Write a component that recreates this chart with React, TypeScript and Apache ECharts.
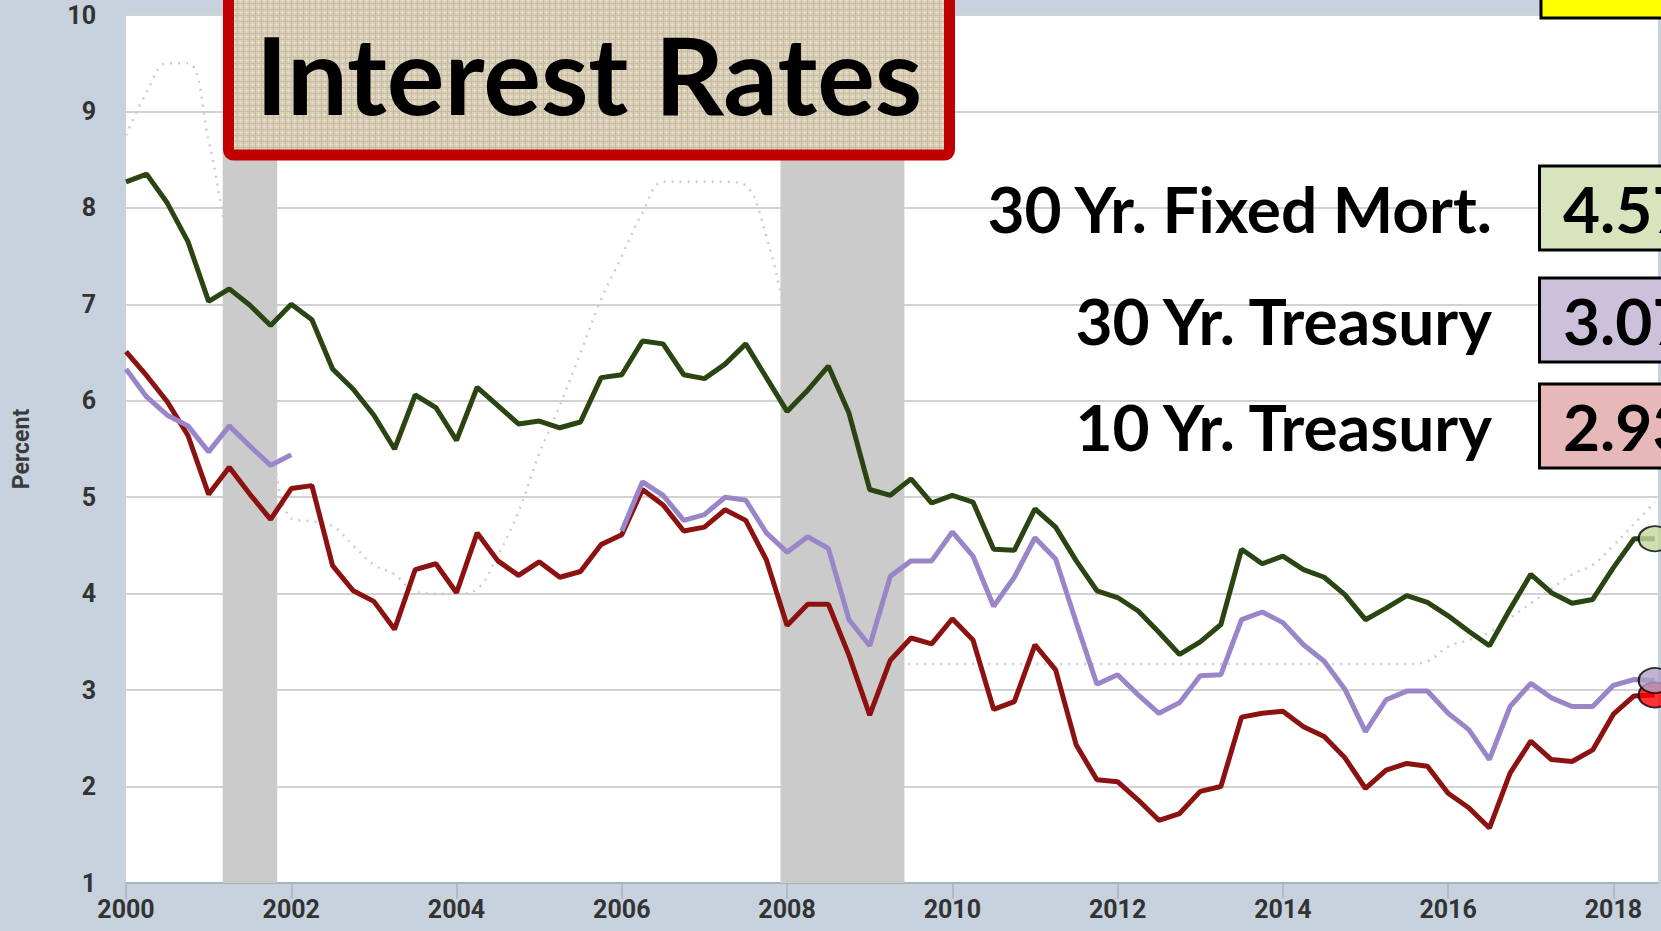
import React, { useEffect, useRef } from "react";
import * as echarts from "echarts";

// Quarterly observations, 2000 Q1 .. 2018 Q3 (75 points)
const START_YEAR = 2000;
const mortgage30 = [
  8.27, 8.35, 8.05, 7.65, 7.03, 7.16, 6.99, 6.78, 7.0, 6.84, 6.33, 6.12, 5.85, 5.5, 6.06, 5.93,
  5.59, 6.14, 5.95, 5.76, 5.79, 5.72, 5.78, 6.24, 6.27, 6.62, 6.59, 6.27, 6.23, 6.38, 6.59, 6.24,
  5.89, 6.11, 6.36, 5.87, 5.08, 5.02, 5.19, 4.94, 5.02, 4.95, 4.46, 4.45, 4.88, 4.69, 4.34, 4.03,
  3.96, 3.82, 3.6, 3.37, 3.5, 3.68, 4.46, 4.31, 4.39, 4.25, 4.17, 3.99, 3.73, 3.85, 3.98, 3.91,
  3.77, 3.61, 3.46, 3.84, 4.2, 4.01, 3.9, 3.94, 4.27, 4.57, 4.57,
];
const treasury30 = [
  6.33, 6.04, 5.85, 5.74, 5.47, 5.74, 5.53, 5.33, 5.44, null, null, null, null, null, null, null,
  null, null, null, null, null, null, null, null, 4.65, 5.16, 5.02, 4.76, 4.82, 5.0, 4.97, 4.63,
  4.43, 4.59, 4.47, 3.73, 3.46, 4.18, 4.34, 4.34, 4.64, 4.39, 3.87, 4.17, 4.58, 4.36, 3.7, 3.06,
  3.16, 2.95, 2.76, 2.87, 3.15, 3.16, 3.73, 3.81, 3.7, 3.47, 3.3, 3.01, 2.57, 2.9, 2.99, 2.99,
  2.76, 2.59, 2.28, 2.83, 3.07, 2.92, 2.83, 2.83, 3.05, 3.11, 3.1,
];
const treasury10 = [
  6.51, 6.26, 5.99, 5.64, 5.03, 5.31, 5.03, 4.77, 5.09, 5.12, 4.29, 4.03, 3.92, 3.63, 4.25, 4.31,
  4.01, 4.63, 4.34, 4.19, 4.33, 4.17, 4.23, 4.51, 4.61, 5.08, 4.92, 4.65, 4.69, 4.87, 4.76, 4.35,
  3.67, 3.89, 3.89, 3.36, 2.74, 3.31, 3.54, 3.48, 3.74, 3.52, 2.8, 2.88, 3.47, 3.21, 2.43, 2.07,
  2.05, 1.86, 1.65, 1.72, 1.95, 2.0, 2.72, 2.76, 2.78, 2.62, 2.52, 2.3, 1.98, 2.17, 2.24, 2.21,
  1.93, 1.78, 1.57, 2.14, 2.47, 2.28, 2.26, 2.38, 2.75, 2.94, 2.95,
];
const primeRate = [
  8.75, 9.2, 9.5, 9.5, 8.7, 7.6, 6.8, 5.6, 4.78, 4.75, 4.7, 4.5, 4.3, 4.2, 4.02, 4.0,
  4.0, 4.05, 4.4, 4.85, 5.45, 5.95, 6.5, 7.05, 7.5, 7.95, 8.27, 8.27, 8.27, 8.27, 8.23, 7.7,
  6.8, 5.6, 5.0, 4.3, 3.3, 3.27, 3.27, 3.27, 3.27, 3.27, 3.27, 3.27, 3.27, 3.27, 3.27, 3.27,
  3.27, 3.27, 3.27, 3.27, 3.27, 3.27, 3.27, 3.27, 3.27, 3.27, 3.27, 3.27, 3.27, 3.27, 3.27, 3.3,
  3.45, 3.52, 3.6, 3.75, 3.9, 4.05, 4.2, 4.3, 4.5, 4.72, 4.95,
];
const recessions = [
  [2001.17, 2001.83],
  [2007.92, 2009.42],
];
const yearTicks = [2000, 2002, 2004, 2006, 2008, 2010, 2012, 2014, 2016, 2018];
const legendNames = ["30 Yr. Fixed Mort.", "30 Yr. Treasury", "10 Yr. Treasury"];
const latestValues = ["4.57", "3.07", "2.93"];
const titleText = "Interest Rates";

const COLORS = {
  mort: "#2b4512",
  t30: "#9a85c9",
  t10: "#8c1212",
  prime: "#cdcdcd",
};
const BOX_FILLS = ["#d8e4bc", "#ccc0da", "#e6b9b8"];
const MARKER_FILLS = ["#c4d79b", "#b1a0c7", "#ff0000"];

const toPairs = (arr: (number | null)[]) =>
  arr.map((v, i) => [START_YEAR + i / 4, v]);

function makeBurlap(): string | null {
  try {
    const c = document.createElement("canvas");
    c.width = 6;
    c.height = 6;
    const g = c.getContext("2d");
    if (!g) return null;
    g.fillStyle = "#d6cbb3";
    g.fillRect(0, 0, 6, 6);
    g.fillStyle = "#e2d9c6";
    g.fillRect(0, 0, 6, 1);
    g.fillRect(0, 0, 1, 6);
    g.fillStyle = "#c9bda3";
    g.fillRect(0, 3, 6, 1);
    g.fillRect(3, 0, 1, 6);
    g.fillStyle = "#ddd3bf";
    g.fillRect(1, 1, 1, 1);
    g.fillRect(4, 4, 1, 1);
    return c.toDataURL();
  } catch (e) {
    return null;
  }
}

export default function App() {
  const ref = useRef<HTMLDivElement>(null);
  useEffect(() => {
    if (!ref.current) return;
    const chart = echarts.init(ref.current, null, { renderer: "svg" });
    const lastIdx = mortgage30.length - 1;
    const lastX = START_YEAR + lastIdx / 4;
    const seriesArrays = [mortgage30, treasury30, treasury10];

    const boxTops = [166, 278, 384];
    const textCenters = [208, 320, 426];

    const burlap = makeBurlap();
    const titleFill: any = burlap
      ? { image: burlap, repeat: "repeat", imageWidth: 6, imageHeight: 6 }
      : "#d7ccb3";

    const graphics: any[] = [
      {
        type: "rect",
        z: 100,
        shape: { x: 228.5, y: -12, width: 721, height: 167, r: 5 },
        style: { fill: "#d7ccb3" },
      },
      {
        type: "rect",
        z: 100,
        shape: { x: 228.5, y: -12, width: 721, height: 167, r: 5 },
        style: { fill: titleFill, stroke: "#c00000", lineWidth: 11 },
      },
      {
        type: "text",
        z: 101,
        style: {
          text: titleText,
          x: 589,
          y: 73,
          fill: "#000",
          fontFamily: "Lato",
          fontWeight: "bold",
          fontSize: 108,
          textAlign: "center",
          textVerticalAlign: "middle",
        },
      },
      {
        type: "rect",
        z: 100,
        shape: { x: 1541, y: -20, width: 200, height: 38 },
        style: { fill: "#ffff00", stroke: "#000", lineWidth: 3 },
      },
    ];
    legendNames.forEach((name, i) => {
      graphics.push({
        type: "text",
        z: 101,
        style: {
          text: name,
          x: 1492,
          y: textCenters[i],
          fill: "#000",
          fontFamily: "Lato",
          fontWeight: "bold",
          fontSize: 64,
          textAlign: "right",
          textVerticalAlign: "middle",
        },
      });
      graphics.push({
        type: "rect",
        z: 100,
        shape: { x: 1539.5, y: boxTops[i], width: 200, height: 84 },
        style: { fill: BOX_FILLS[i], stroke: "#000", lineWidth: 3 },
      });
      graphics.push({
        type: "text",
        z: 101,
        style: {
          text: latestValues[i],
          x: 1563,
          y: textCenters[i],
          fill: "#000",
          fontFamily: "Lato",
          fontWeight: "bold",
          fontSize: 64,
          textAlign: "left",
          textVerticalAlign: "middle",
        },
      });
    });

    const markerOrder = [2, 1, 0];
    const markerSeries = markerOrder.map((k, j) => ({
      type: "scatter",
      z: 10 + j,
      clip: false,
      silent: true,
      symbol: "circle",
      symbolSize: [32, 25],
      itemStyle: { color: MARKER_FILLS[k], borderColor: "#000", borderWidth: 2 },
      data: [[lastX, seriesArrays[k][lastIdx]]],
    }));

    chart.setOption({
      animation: false,
      backgroundColor: "#c7d2de",
      grid: {
        left: 126,
        right: 3,
        top: 15,
        bottom: 48,
        show: true,
        containLabel: false,
        outerBoundsMode: "none",
        backgroundColor: "#ffffff",
        borderWidth: 0,
      },
      xAxis: {
        type: "value",
        min: 2000,
        max: 2018.54,
        interval: 2,
        axisLine: { show: true, lineStyle: { color: "#a9b3bf", width: 2 } },
        axisTick: {
          show: true,
          length: 16,
          customValues: yearTicks,
          lineStyle: { color: "#a9b3bf", width: 1.5 },
        },
        axisLabel: {
          customValues: yearTicks,
          formatter: (v: number) => String(v),
          color: "#333",
          fontFamily: "Roboto",
          fontWeight: "bold",
          fontSize: 25,
          margin: 14,
        },
        splitLine: { show: false },
      },
      yAxis: {
        type: "value",
        min: 1,
        max: 10,
        interval: 1,
        name: "Percent",
        nameLocation: "middle",
        nameGap: 93,
        nameTextStyle: {
          color: "#3a3a3a",
          fontFamily: "Roboto",
          fontWeight: "bold",
          fontSize: 23,
        },
        axisLine: { show: false },
        axisTick: { show: false },
        axisLabel: {
          color: "#333",
          fontFamily: "Roboto",
          fontWeight: "bold",
          fontSize: 25,
          margin: 30,
        },
        splitLine: { show: true, lineStyle: { color: "#d2d2d2", width: 2 } },
      },
      graphic: { elements: graphics },
      series: [
        {
          name: "Prime",
          type: "line",
          z: 1,
          silent: true,
          showSymbol: false,
          smooth: 0.4,
          lineStyle: { color: COLORS.prime, width: 2.5, type: [2, 6] },
          data: toPairs(primeRate),
        },
        {
          name: "Recessions",
          type: "custom",
          z: 2,
          silent: true,
          encode: { x: [0, 1] },
          renderItem: (params: any, api: any) => {
            const p0 = api.coord([api.value(0), 10]);
            const p1 = api.coord([api.value(1), 1]);
            return {
              type: "rect",
              shape: { x: p0[0], y: p0[1], width: p1[0] - p0[0], height: p1[1] - p0[1] },
              style: { fill: "#cbcbcb" },
            };
          },
          data: recessions,
        },
        {
          name: legendNames[2],
          type: "line",
          z: 3,
          showSymbol: false,
          lineStyle: { color: COLORS.t10, width: 5 },
          data: toPairs(treasury10),
        },
        {
          name: legendNames[1],
          type: "line",
          z: 4,
          showSymbol: false,
          connectNulls: false,
          lineStyle: { color: COLORS.t30, width: 5 },
          data: toPairs(treasury30),
        },
        {
          name: legendNames[0],
          type: "line",
          z: 5,
          showSymbol: false,
          lineStyle: { color: COLORS.mort, width: 5 },
          data: toPairs(mortgage30),
        },
        ...markerSeries,
      ],
    });
    return () => chart.dispose();
  }, []);
  return (
    <div
      ref={ref}
      style={{ position: "fixed", left: 0, top: 0, width: 1661, height: 931 }}
    />
  );
}
